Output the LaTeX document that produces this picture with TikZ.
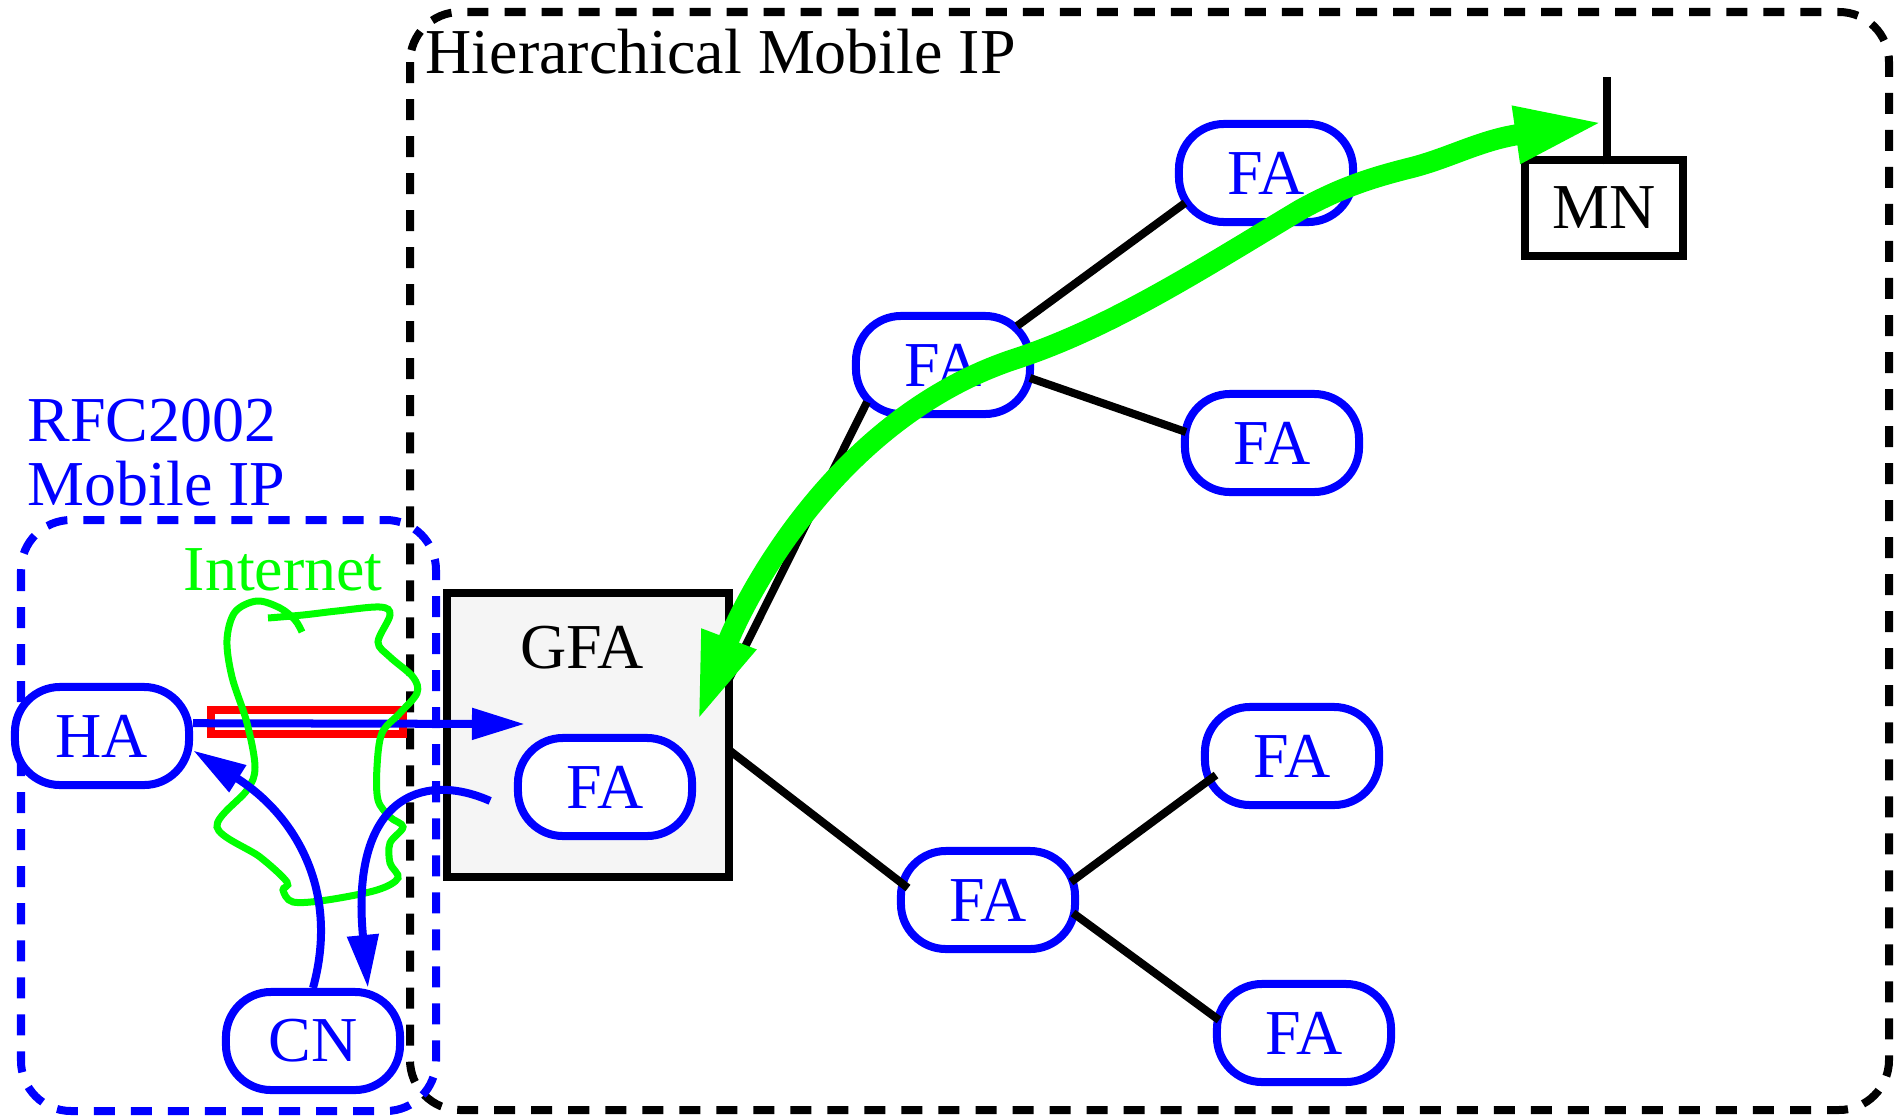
\documentclass[tikz,border=0pt]{standalone}
\usepackage{fontspec}
\setmainfont{Liberation Serif}
\usetikzlibrary{arrows.meta}

\begin{document}
\begin{tikzpicture}[x=0.01cm,y=-0.01cm,
  font=\fontsize{18.2}{18.3}\selectfont,
  agent/.style={draw=blue,fill=white,text=blue,line width=0.08cm,rounded corners=0.45cm,
    minimum width=1.74cm,minimum height=0.98cm,inner sep=0pt},
  gfabox/.style={draw=black,fill=black!4,line width=0.08cm,minimum width=2.82cm,minimum height=2.84cm},
  mnbox/.style={draw=black,line width=0.08cm,minimum width=1.58cm,minimum height=0.95cm,inner sep=0pt},
  tunnel/.style={draw=red,line width=0.08cm,minimum width=1.91cm,minimum height=0.24cm,inner sep=0pt},
  link/.style={line width=0.08cm},
  area/.style={line width=0.08cm,dash pattern=on 0.21cm off 0.16cm,rounded corners=0.5cm},
  bluearrow/.style={draw=blue,line width=0.08cm,-{Triangle[length=0.53cm,width=0.3cm]}},
  greenflow/.style={draw=green,line width=0.21cm,
    {Triangle[length=0.9cm,width=0.52cm]}-{Triangle[length=0.9cm,width=0.52cm]}},
  lbl/.style={inner sep=0pt}]
\useasboundingbox (0,0) rectangle (1894,1118);

% the two domains
\draw[area] (410,12) rectangle (1889,1110);
\draw[area,blue] (21,520) rectangle (436,1111);
\node[lbl,anchor=base west] (hmip) at (425,73) {Hierarchical Mobile IP};
\node[lbl,anchor=north west,align=left,text=blue] (rfc) at (27,398) {RFC2002\\Mobile IP};
\node[lbl,anchor=base west,text=green] (inet) at (183,590) {Internet};

% agents
\node[gfabox] (gfa) at (588,735) {};
\node[lbl,anchor=base] (gfalabel) at (582,668) {GFA};
\node[agent] (fagfa) at (605,787) {FA};
\node[agent] (ha) at (102,736) {HA};
\node[agent] (cn) at (313,1041) {CN};
\node[agent] (famid) at (943,365) {FA};
\node[agent] (fatop) at (1266,173) {FA};
\node[agent] (faright) at (1272,443) {FA};
\node[agent] (falow) at (988,900) {FA};
\node[agent] (falowtop) at (1292,756) {FA};
\node[agent] (falowbot) at (1304,1033) {FA};
\node[mnbox] (mn) at (1604,208) {MN};
\coordinate (ant) at (1607,77);

% hierarchy
\draw[link] ([shift={(141,-56)}]gfa.center) -- ([shift={(-76,37)}]famid.center);
\draw[link] ([shift={(141,15)}]gfa.center) -- ([shift={(-80,-12)}]falow.center);
\draw[link] ([shift={(74,-39)}]famid.center) -- ([shift={(-81,30)}]fatop.center);
\draw[link] ([shift={(87,13)}]famid.center) -- ([shift={(-86,-11)}]faright.center);
\draw[link] ([shift={(83,-18)}]falow.center) -- ([shift={(-76,19)}]falowtop.center);
\draw[link] ([shift={(85,13)}]falow.center) -- ([shift={(-85,-13)}]falowbot.center);
\draw[link] ([shift={(3,8)}]mn.north) -- (ant);

% tunnel HA -> GFA
\node[tunnel] (tun) at (307,722) {};
\coordinate (gfain) at (525,724);
\draw[bluearrow] (ha.8) -- (gfain);

% internet
\draw[green,line width=0.07cm] plot[smooth,tension=0.55] coordinates {(268,618) (303,615)
  (337,611) (380,607) (390,615) (378,642) (390,657) (413,677) (417,693) (400,713) (382,733)
  (377,767) (378,800) (390,817) (403,827) (390,843) (390,863) (398,878) (377,890) (327,900)
  (293,902) (283,890) (287,882) (260,857) (217,827) (247,790) (255,767) (247,723) (232,677)
  (227,640) (235,612) (257,601) (280,608) (295,620) (302,632)};

\draw[bluearrow] (cn.north) .. controls (340,890) and (295,815) .. (ha.-9);
\draw[bluearrow,shorten <=0.26cm] (fagfa.195) .. controls (420,770) and (350,800) .. (cn.44);

% registration path MN <-> GFA
\coordinate (gfatip) at (697,723);
\coordinate (anttip) at (1605,122);
\draw[greenflow] (gfatip) .. controls (740,610) and (830,420) .. (1015,359)
  .. controls (1110,328) and (1200,270) .. (1300,210)
  .. controls (1340,188) and (1370,178) .. (1410,168)
  .. controls (1450,158) and (1480,140) .. (anttip);
\end{tikzpicture}
\end{document}
